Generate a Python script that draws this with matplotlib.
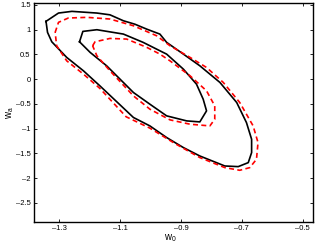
import matplotlib
matplotlib.use("Agg")
import matplotlib.pyplot as plt

plt.rcParams['font.family'] = ['Liberation Sans', 'DejaVu Sans']
plt.rcParams['mathtext.fontset'] = 'custom'
plt.rcParams['mathtext.rm'] = 'Liberation Sans'

# contour outlines (w0, wa)
outer_black_w0 = [-1.343, -1.302, -1.258, -1.176, -1.133, -1.089, -1.051, -1.012, -0.969, -0.947,
                  -0.892, -0.838, -0.772, -0.717, -0.685, -0.668, -0.668, -0.679, -0.712, -0.756,
                  -0.838, -0.892, -0.947, -1.002, -1.056, -1.166, -1.220, -1.275, -1.324, -1.338, -1.343]
outer_black_wa = [1.168, 1.336, 1.370, 1.336, 1.300, 1.180, 1.110, 1.010, 0.910, 0.743,
                  0.506, 0.270, -0.067, -0.472, -0.877, -1.215, -1.484, -1.687, -1.768, -1.755,
                  -1.553, -1.383, -1.180, -0.945, -0.775, -0.136, 0.168, 0.439, 0.755, 0.945, 1.168]

outer_red_w0 = [-1.313, -1.302, -1.270, -1.209, -1.133, -1.056, -0.980, -0.936, -0.870, -0.816,
                -0.761, -0.707, -0.663, -0.647, -0.652, -0.674, -0.707, -0.756, -0.838, -0.920,
                -1.002, -1.080, -1.166, -1.220, -1.275, -1.308, -1.313]
outer_red_wa = [0.945, 1.148, 1.235, 1.249, 1.215, 1.079, 0.877, 0.675, 0.439, 0.236,
                -0.067, -0.472, -0.945, -1.282, -1.619, -1.788, -1.842, -1.788, -1.585, -1.300,
                -0.990, -0.760, -0.188, 0.101, 0.370, 0.675, 0.945]

inner_black_w0 = [-1.233, -1.222, -1.176, -1.089, -1.024, -0.969, -0.947, -0.892, -0.849, -0.827,
                  -0.816, -0.838, -0.881, -0.947, -1.002, -1.056, -1.144, -1.198, -1.233]
inner_black_wa = [0.755, 0.965, 0.999, 0.911, 0.743, 0.573, 0.506, 0.202, -0.101, -0.405,
                  -0.641, -0.864, -0.844, -0.742, -0.506, -0.270, 0.270, 0.540, 0.755]

inner_red_w0 = [-1.190, -1.182, -1.133, -1.078, -1.012, -0.969, -0.936, -0.870, -0.816, -0.789,
                -0.789, -0.805, -0.870, -0.936, -1.002, -1.056, -1.133, -1.176, -1.190]
inner_red_wa = [0.675, 0.755, 0.823, 0.810, 0.642, 0.506, 0.370, 0.067, -0.236, -0.540,
                -0.810, -0.945, -0.911, -0.823, -0.607, -0.338, 0.168, 0.472, 0.675]

x_ticks = [-1.3, -1.1, -0.9, -0.7, -0.5]
x_tick_labels = ['\u20131.3', '\u20131.1', '\u20130.9', '\u20130.7', '\u20130.5']
y_ticks = [-2.5, -2, -1.5, -1, -0.5, 0, 0.5, 1, 1.5]
y_tick_labels = ['\u20132.5', '\u20132', '\u20131.5', '\u20131', '\u20130.5', '0', '0.5', '1', '1.5']

fig = plt.figure(figsize=(3.16, 2.46), dpi=100)
ax = fig.add_axes([0.108, 0.098, 0.882, 0.890])

ax.plot(outer_black_w0, outer_black_wa, color='black', lw=1.2)
ax.plot(inner_black_w0, inner_black_wa, color='black', lw=1.2)
ax.plot(outer_red_w0, outer_red_wa, color='red', lw=1.2, ls=(0, (3, 2)))
ax.plot(inner_red_w0, inner_red_wa, color='red', lw=1.2, ls=(0, (3, 2)))

ax.set_xlim(-1.382, -0.467)
ax.set_ylim(-2.885, 1.54)
ax.set_xticks(x_ticks)
ax.set_xticklabels(x_tick_labels)
ax.set_yticks(y_ticks)
ax.set_yticklabels(y_tick_labels)
ax.tick_params(direction='in', top=True, right=True, labelsize=5.5, length=2.5, width=0.6, pad=2.5)
for s in ax.spines.values():
    s.set_linewidth(1.0)

ax.set_xlabel('w$_{\\mathregular{0}}$', fontsize=7)
ax.set_ylabel('w$_{\\mathregular{a}}$', fontsize=7)
ax.xaxis.set_label_coords(0.487, -0.045, transform=ax.transAxes)
ax.yaxis.set_label_coords(-0.065, 0.5, transform=ax.transAxes)

fig.savefig('out.png', dpi=100)
